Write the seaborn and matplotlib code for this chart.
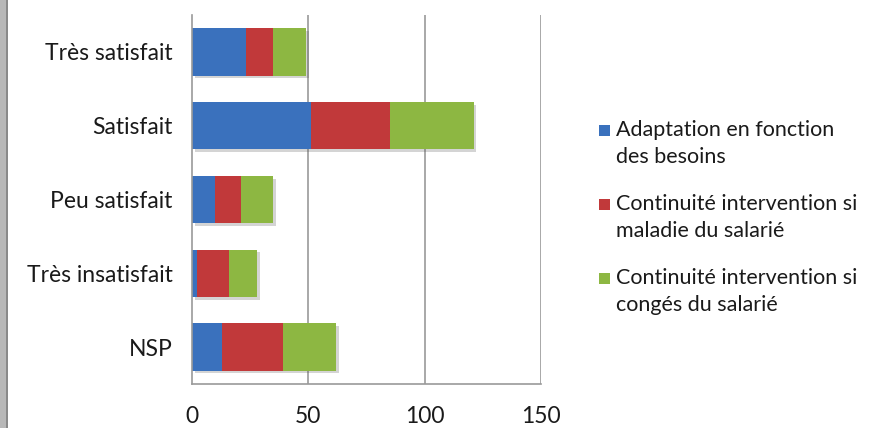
import numpy as np
import pandas as pd
import matplotlib
matplotlib.use("Agg")
import matplotlib.pyplot as plt
import matplotlib.patheffects as pe
import seaborn as sns
from matplotlib.patches import Rectangle, Patch
from matplotlib.legend_handler import HandlerBase

categories = ["Très satisfait", "Satisfait", "Peu satisfait", "Très insatisfait", "NSP"]
adaptation = [23, 51, 10, 2, 13]
maladie = [12, 34, 11, 14, 26]
conges = [14, 36, 14, 12, 23]
series_labels = ["Adaptation en fonction\ndes besoins",
                 "Continuité intervention si\nmaladie du salarié",
                 "Continuité intervention si\ncongés du salarié"]
xticks = [0, 50, 100, 150]

colors = ["#3a71bd", "#c1393a", "#8db742"]

sns.set_theme(style="white")
plt.rcParams['font.family'] = ['Lato', 'DejaVu Sans']

df = pd.DataFrame({"cat": categories,
                   "a": adaptation, "m": maladie, "c": conges})
df["am"] = df["a"] + df["m"]
df["amc"] = df["am"] + df["c"]

FS = 16.5
LFS = 15.5
LSP = 1.45


class TopSquare(HandlerBase):
    def create_artists(self, legend, orig_handle, xdescent, ydescent,
                       width, height, fontsize, trans):
        s = 0.5 * fontsize
        yc = 0.99 * fontsize
        r = Rectangle((-xdescent, yc - s / 2), s, s,
                      facecolor=orig_handle.get_facecolor(),
                      edgecolor="none", transform=trans)
        return [r]


fig = plt.figure(figsize=(8.8, 4.28), dpi=100)
ax = fig.add_axes([192/880, 1-384/428, (541-192)/880, (384-15)/428])

for i, (col, colr) in enumerate(zip(["amc", "am", "a"], colors[::-1])):
    sns.barplot(data=df, y="cat", x=col, color=colr, orient="h",
                width=0.64, ax=ax, saturation=1, edgecolor="none")
for p in ax.patches[:len(categories)]:
    p.set_path_effects([pe.SimplePatchShadow(offset=(2, -2), alpha=0.25, shadow_rgbFace="#555555"),
                        pe.Normal()])

ax.set_xlim(0, 150)
ax.set_xticks(xticks)
ax.set_xticklabels([str(t) for t in xticks], fontsize=FS, color="#1a1a1a")
ax.tick_params(axis="x", length=0, pad=16)
ax.tick_params(axis="y", length=0, pad=14, labelsize=FS, labelcolor="#1a1a1a")
ax.set_xlabel("")
ax.set_ylabel("")
for x in xticks[1:]:
    ax.axvline(x, color="#9a9a9a", lw=1.2, zorder=0)
for s in ["top", "right"]:
    ax.spines[s].set_visible(False)
for s in ["left", "bottom"]:
    ax.spines[s].set_color("#9a9a9a")
    ax.spines[s].set_linewidth(1.2)

handles = [Patch(facecolor=c, edgecolor="none") for c in colors]
leg = fig.legend(handles, series_labels, loc="upper left",
                 bbox_to_anchor=(599/880, 1-120/428), frameon=False,
                 fontsize=LFS, handlelength=0.5, handleheight=0.7,
                 handletextpad=0.3, labelspacing=1.25, labelcolor="#1a1a1a",
                 borderpad=0, borderaxespad=0,
                 handler_map={Patch: TopSquare()})
for t in leg.get_texts():
    t.set_linespacing(LSP)

fig.patches.append(Rectangle((0, 0), 7/880, 1, transform=fig.transFigure,
                             facecolor="#b8b8b8", edgecolor="none"))
fig.patches.append(Rectangle((6/880, 0), 1.5/880, 1, transform=fig.transFigure,
                             facecolor="#8a8a8a", edgecolor="none"))

fig.savefig("out.png", dpi=100)
